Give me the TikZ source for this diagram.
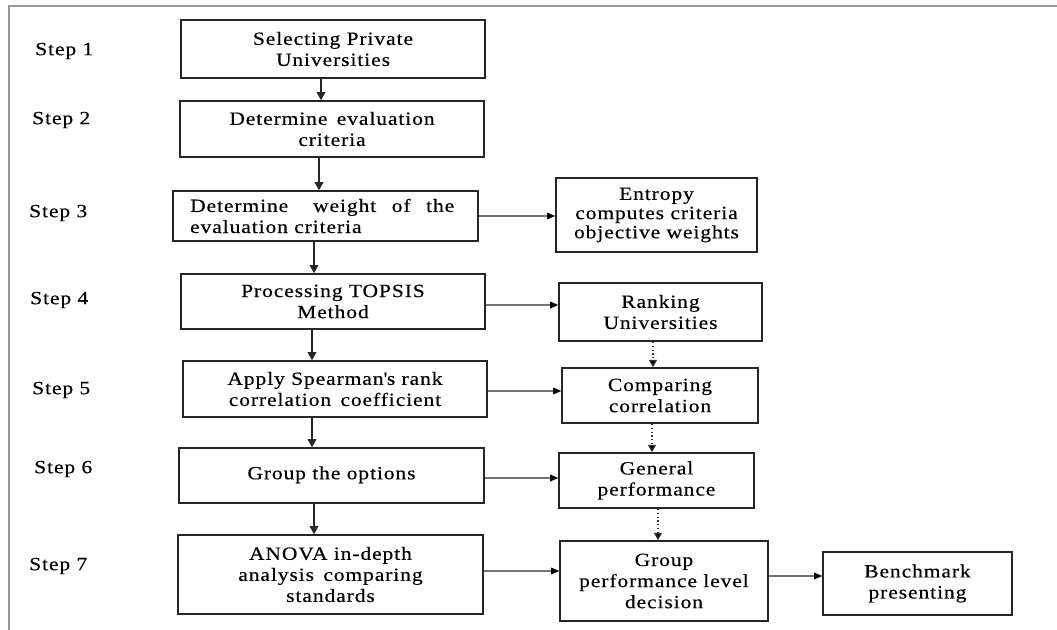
\documentclass[tikz,border=0pt]{standalone}
\usepackage{fontspec}
\setmainfont{Liberation Serif}[FakeStretch=1.15,LetterSpace=5,FakeBold=0.4]
\usetikzlibrary{arrows.meta,calc}
\begin{document}
\begin{tikzpicture}[x=0.75pt,y=-0.75pt,
  box/.style 2 args={draw=black!85,line width=1.2pt,minimum width=#1*0.75pt,minimum height=#2*0.75pt,
     inner sep=0pt,align=center,font=\fontsize{14}{15.8}\selectfont},
  steplbl/.style={anchor=west,inner sep=0pt,font=\fontsize{14}{15.8}\selectfont},
  varr/.style={draw=black!85,line width=0.9pt,-{Triangle[length=6pt,width=6.5pt]}},
  harr/.style={draw=black!55,line width=0.8pt,-{Triangle[length=6pt,width=5pt,fill=black,color=black]}},
  darr/.style={draw=black!80,line width=0.9pt,dotted,-{Triangle[length=5.5pt,width=6pt,fill=black]}},
  frame/.style={draw=black!40,line width=1.2pt}
]
\useasboundingbox (0,0) rectangle (1057,630);
\fill[white] (0,0) rectangle (1057,630);
\draw[frame] (9,630) -- (9,6) -- (1057,6);

% step labels
\node[steplbl] (s1) at (35,51) {Step 1};
\node[steplbl] (s2) at (32,120) {Step 2};
\node[steplbl] (s3) at (29,213) {Step 3};
\node[steplbl] (s4) at (30,300) {Step 4};
\node[steplbl] (s5) at (32,390) {Step 5};
\node[steplbl] (s6) at (34,469) {Step 6};
\node[steplbl] (s7) at (29,566) {Step 7};

% main column
\node[box={304}{58}] (b1) at (333,49) {Selecting Private\\Universities};
\node[box={304}{56}] (b2) at (332,129) {Determine\enspace evaluation\\criteria};
\node[box={305}{50},align=left,text width=203pt] (b3) at (325.5,216)
   {\makebox[\linewidth][s]{Determine \quad weight \enspace of \enspace the}\\evaluation criteria};
\node[box={304}{55}] (b4) at (333,301.5) {Processing TOPSIS\\Method};
\node[box={304}{56}] (b5) at (335,389) {Apply Spearman\textquotesingle s rank\\correlation\enspace coefficient};
\node[box={305}{55}] (b6) at (331.5,475.5) {\raisebox{4pt}{Group the options}};
\node[box={305}{79}] (b7) at (330.5,574.5) {ANOVA in-depth\\analysis\enspace comparing\\standards};

% right column
\node[box={201}{74},font=\fontsize{14}{14.4}\selectfont] (e1) at (656.5,215) {Entropy\\computes criteria\\objective weights};
\node[box={203}{58}] (r1) at (660.5,312) {Ranking\\Universities};
\node[box={196}{55}] (c1) at (660,395.5) {Comparing\\correlation};
\node[box={195}{55}] (g1) at (656.5,480.5) {General\\performance};
\node[box={208}{80}] (gp) at (664,581) {Group\\performance level\\decision};
\node[box={189}{63}] (bm) at (917.5,583.5) {Benchmark\\presenting};

% vertical arrows main column
\path ($(b1.south)+(-12,0)$) coordinate (v1)
      ($(b2.south)+(-13,0)$) coordinate (v2)
      ($(b3.south)+(-11.5,0)$) coordinate (v3)
      ($(b4.south)+(-21,0)$) coordinate (v4)
      ($(b5.south)+(-23,0)$) coordinate (v5)
      ($(b6.south)+(-17.5,0)$) coordinate (v6);
\draw[varr] (v1) -- (v1 |- b2.north);
\draw[varr] (v2) -- (v2 |- b3.north);
\draw[varr] (v3) -- (v3 |- b4.north);
\draw[varr] (v4) -- (v4 |- b5.north);
\draw[varr] (v5) -- (v5 |- b6.north);
\draw[varr] (v6) -- (v6 |- b7.north);

% horizontal arrows
\path ($(b4.east)+(0,3.5)$) coordinate (h4)
      ($(b5.east)+(0,2)$) coordinate (h5)
      ($(b6.east)+(0,2.5)$) coordinate (h6)
      ($(b7.east)+(0,-3.5)$) coordinate (h7)
      ($(gp.east)+(0,-5)$) coordinate (h8);
\draw[harr] (b3.east) -- (b3.east -| e1.west);
\draw[harr] (h4) -- (h4 -| r1.west);
\draw[harr] (h5) -- (h5 -| c1.west);
\draw[harr] (h6) -- (h6 -| g1.west);
\draw[harr] (h7) -- (h7 -| gp.west);
\draw[harr] (h8) -- (h8 -| bm.west);

% dotted arrows right column
\path ($(r1.south)+(-7.5,0)$) coordinate (d1)
      ($(c1.south)+(-8,0)$) coordinate (d2)
      ($(g1.south)+(1.5,0)$) coordinate (d3);
\draw[darr] (d1) -- (d1 |- c1.north);
\draw[darr] (d2) -- (d2 |- g1.north);
\draw[darr] (d3) -- (d3 |- gp.north);
\end{tikzpicture}
\end{document}
